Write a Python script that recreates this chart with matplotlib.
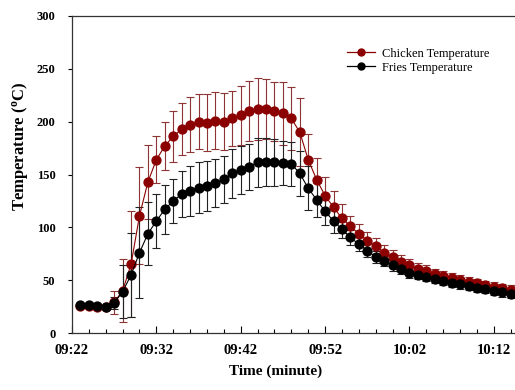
import numpy as np
import matplotlib
matplotlib.use('Agg')
import matplotlib.pyplot as plt
from matplotlib.ticker import MultipleLocator
from matplotlib.lines import Line2D

plt.rcParams['font.family'] = ['Liberation Serif', 'DejaVu Serif']
plt.rcParams['mathtext.fontset'] = 'custom'
plt.rcParams['mathtext.rm'] = 'Liberation Serif'
plt.rcParams['mathtext.bf'] = 'Liberation Serif:bold'

# Readings, one per minute starting 09:23
chicken = [26, 26, 25, 25, 29, 40, 65, 111, 143, 164, 177, 186, 193, 197,
           200, 199, 201, 200, 203, 206, 210, 212, 212, 210, 208, 203, 190,
           164, 145, 130, 119, 108.5, 101, 94, 87.5, 82, 76, 72, 67.5, 64,
           61, 58.5, 56, 54, 52, 50, 48.5, 47, 45.5, 44, 42.5, 41]
chicken_sd = [1, 1, 1, 1, 11, 30, 50, 46, 35, 22, 23, 24, 24.5, 26,
              26, 27, 27, 27, 26, 28, 28.5, 29, 28, 28, 30, 30, 32,
              24, 21, 18, 15, 13.5, 10, 9, 8, 7.5, 7, 6.5, 6, 6,
              5.5, 5.5, 5, 5, 5, 4.5, 4.5, 4.5, 4, 4, 4, 4]
fries = [26.5, 26.5, 26, 25, 28.5, 39, 55, 76, 94, 106, 117, 125, 131.5, 134.5,
         137.5, 139, 142, 145.5, 151, 154, 157, 161.5, 162, 161.5, 161, 160, 151,
         137, 126, 115, 106, 98, 90.5, 84, 78, 72, 68, 64, 60.5, 57,
         55, 53, 51, 49, 47.5, 46, 44.5, 43, 41.5, 40, 38.5, 37]
fries_sd = [0.5, 0.5, 0.5, 0.5, 6, 25, 40, 43, 30, 26, 23, 20.5, 22, 23.5,
            24, 24, 23, 22, 23, 22.5, 22, 23, 23, 22, 21, 20.5, 21,
            21, 16, 13, 11, 8, 7, 6.5, 6, 5.5, 5, 5, 4.5, 4.5,
            4, 4, 4, 4, 4, 4, 4, 4, 4, 4, 4, 4]
tick_labels = ['09:22', '09:32', '09:42', '09:52', '10:02', '10:12']

minutes = np.arange(1, len(chicken) + 1)

fig = plt.figure(figsize=(5.15, 3.9), dpi=100)
ax = fig.add_axes([72 / 515, 57 / 390, 448 / 515, 317 / 390])

red = '#8b0000'
ax.errorbar(minutes, chicken, yerr=chicken_sd, color=red, ecolor='#8e3434',
            marker='o', markersize=6.4, markerfacecolor=red, markeredgecolor=red,
            linewidth=0.8, elinewidth=0.8, capsize=3, capthick=0.8)
ax.errorbar(minutes, fries, yerr=fries_sd, color='black', ecolor='#222222',
            marker='o', markersize=6.4, markerfacecolor='black', markeredgecolor='black',
            linewidth=0.8, elinewidth=0.8, capsize=3, capthick=0.8)

ax.set_xlim(0, 53.1)
ax.set_ylim(0, 300)
ax.set_xticks(np.arange(0, 10 * len(tick_labels), 10))
ax.set_xticklabels(tick_labels)
ax.xaxis.set_minor_locator(MultipleLocator(2))
ax.yaxis.set_major_locator(MultipleLocator(50))

ax.tick_params(axis='x', which='major', direction='in', length=5, width=0.8, pad=8,
               labelsize=10.5)
ax.tick_params(axis='x', which='minor', direction='in', length=3, width=0.8)
ax.tick_params(axis='y', which='major', direction='out', length=3, width=0.8, pad=9,
               labelsize=9)
for lab in ax.get_xticklabels() + ax.get_yticklabels():
    lab.set_fontweight('bold')

for s in ax.spines.values():
    s.set_color('#333333')
    s.set_linewidth(0.9)

ax.set_xlabel('Time (minute)', fontsize=11, fontweight='bold')
ax.xaxis.set_label_coords(0.455, -0.10)
ax.set_ylabel(r'Temperature ($\mathbf{^{o}}$C)', fontsize=12, fontweight='bold')
ax.yaxis.set_label_coords(-0.094, 0.59)

handles = [Line2D([], [], color=red, marker='o', markersize=5, linewidth=0.9),
           Line2D([], [], color='black', marker='o', markersize=5, linewidth=0.9)]
ax.legend(handles, ['Chicken Temperature', 'Fries Temperature'],
          loc='upper left', bbox_to_anchor=(0.614, 0.9), frameon=False,
          fontsize=9, handlelength=2.2, handletextpad=0.6,
          labelspacing=0.15, borderpad=0, borderaxespad=0)

plt.savefig('out.png', dpi=100)
